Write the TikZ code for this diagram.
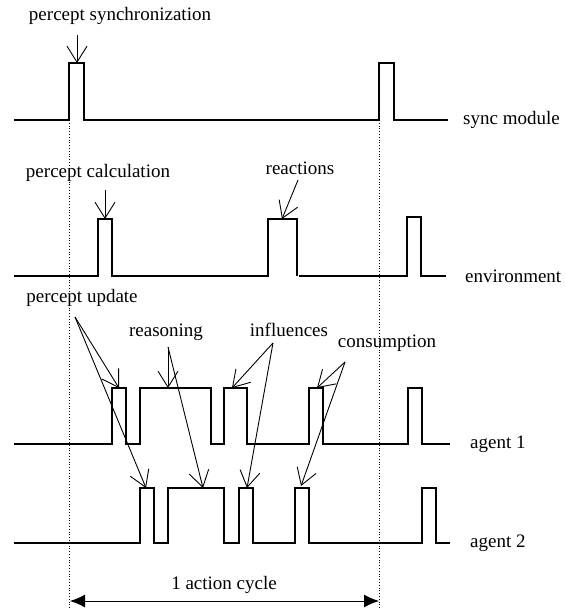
\documentclass[tikz,border=0pt]{standalone}
\usepackage{fontspec}
\setmainfont{Liberation Serif}
\usetikzlibrary{arrows.meta}
\begin{document}
\begin{tikzpicture}[x=1pt,y=-1pt,
  signal/.style={line width=1.4pt, line join=miter},
  note/.style={line width=0.9pt, -{Straight Barb[length=16pt,width=20pt]}},
  lbl/.style={font=\fontsize{19}{22}\selectfont, inner sep=0pt},
  guide/.style={dotted, line width=0.8pt},
  cycle/.style={line width=1pt, {Latex[length=15pt,width=13pt]}-{Latex[length=15pt,width=13pt]}}]
\useasboundingbox (0,0) rectangle (565,610);

% timing signals
\draw[signal] (14,120) -- (69,120) -- (69,63) -- (84,63) -- (84,120) -- (379,120)
  -- (379,63) -- (394,63) -- (394,120) -- (448,120);
\draw[signal] (14,276) -- (98,276) -- (98,219) -- (112,219) -- (112,276) -- (268,276)
  -- (268,219) -- (297,219) -- (297,276);
\draw[signal] (299,276) -- (407,276) -- (407,217) -- (421,217) -- (421,276) -- (446,276);
\draw[signal] (14,444) -- (112,444) -- (112,388) -- (126,388) -- (126,444) -- (140,444)
  -- (140,388) -- (211,388) -- (211,444) -- (224,444) -- (224,388) -- (247,388)
  -- (247,444) -- (309,444) -- (309,388) -- (323,388) -- (323,444) -- (408,444)
  -- (408,388) -- (422,388) -- (422,444) -- (450,444);
\draw[signal] (14,543) -- (140,543) -- (140,488) -- (154,488) -- (154,543) -- (168,543)
  -- (168,488) -- (224,488) -- (224,543) -- (239,543) -- (239,488) -- (253,488)
  -- (253,543) -- (295,543) -- (295,488) -- (309,488) -- (309,543) -- (422,543)
  -- (422,488) -- (436,488) -- (436,543) -- (450,543);

% row names
\node[lbl, anchor=west] (sync) at (463,120) {sync module};
\node[lbl, anchor=west] (env) at (465,276) {environment};
\node[lbl, anchor=west] (ag1) at (470,444) {agent 1};
\node[lbl, anchor=west] (ag2) at (470,543) {agent 2};

% cycle boundaries
\coordinate (c0) at (69,120);
\coordinate (c1) at (379,120);
\coordinate (c0b) at (69,610);
\coordinate (c1b) at (379,610);
\draw[guide] (c0) -- (c0b);
\draw[guide] (c1) -- (c1b);

% cycle length
\coordinate (a0) at (70,601);
\coordinate (a1) at (379,601);
\draw[cycle] (a0) -- (a1);
\node[lbl] (cyc) at (224,585) {1 action cycle};

% event labels
\node[lbl] (psync) at (120,16) {percept synchronization};
\node[lbl] (pcalc) at (98,173) {percept calculation};
\node[lbl] (react) at (300,168) {reactions};
\node[lbl] (pupd) at (82,298) {percept update};
\node[lbl] (reas) at (166,332) {reasoning};
\node[lbl] (infl) at (289,330) {influences};
\node[lbl] (cons) at (387,343) {consumption};

% arrow tails
\coordinate (tsync) at (77,35);
\coordinate (tcalc) at (105,190);
\coordinate (treact) at (298,180);
\coordinate (tupd) at (75,317);
\coordinate (treas) at (168,347);
\coordinate (tinfl) at (273,343);
\coordinate (tcons) at (345,362);

% arrow tips on the pulses
\coordinate (hsync) at (77,63);
\coordinate (hcalc) at (105,219);
\coordinate (hreact) at (282,219);
\coordinate (hupd1) at (119,388);
\coordinate (hupd2) at (146,488);
\coordinate (hreas1) at (168,388);
\coordinate (hreas2) at (203,488);
\coordinate (hinfl1) at (232,388);
\coordinate (hinfl2) at (247,488);
\coordinate (hcons1) at (317,388);
\coordinate (hcons2) at (301,486);

\draw[note] (tsync) -- (hsync);
\draw[note] (tcalc) -- (hcalc);
\draw[note] (treact) -- (hreact);
\draw[note] (tupd) -- (hupd1);
\draw[note] (tupd) -- (hupd2);
\draw[note] (treas) -- (hreas1);
\draw[note] (treas) -- (hreas2);
\draw[note] (tinfl) -- (hinfl1);
\draw[note] (tinfl) -- (hinfl2);
\draw[note] (tcons) -- (hcons1);
\draw[note] (tcons) -- (hcons2);
\end{tikzpicture}
\end{document}
